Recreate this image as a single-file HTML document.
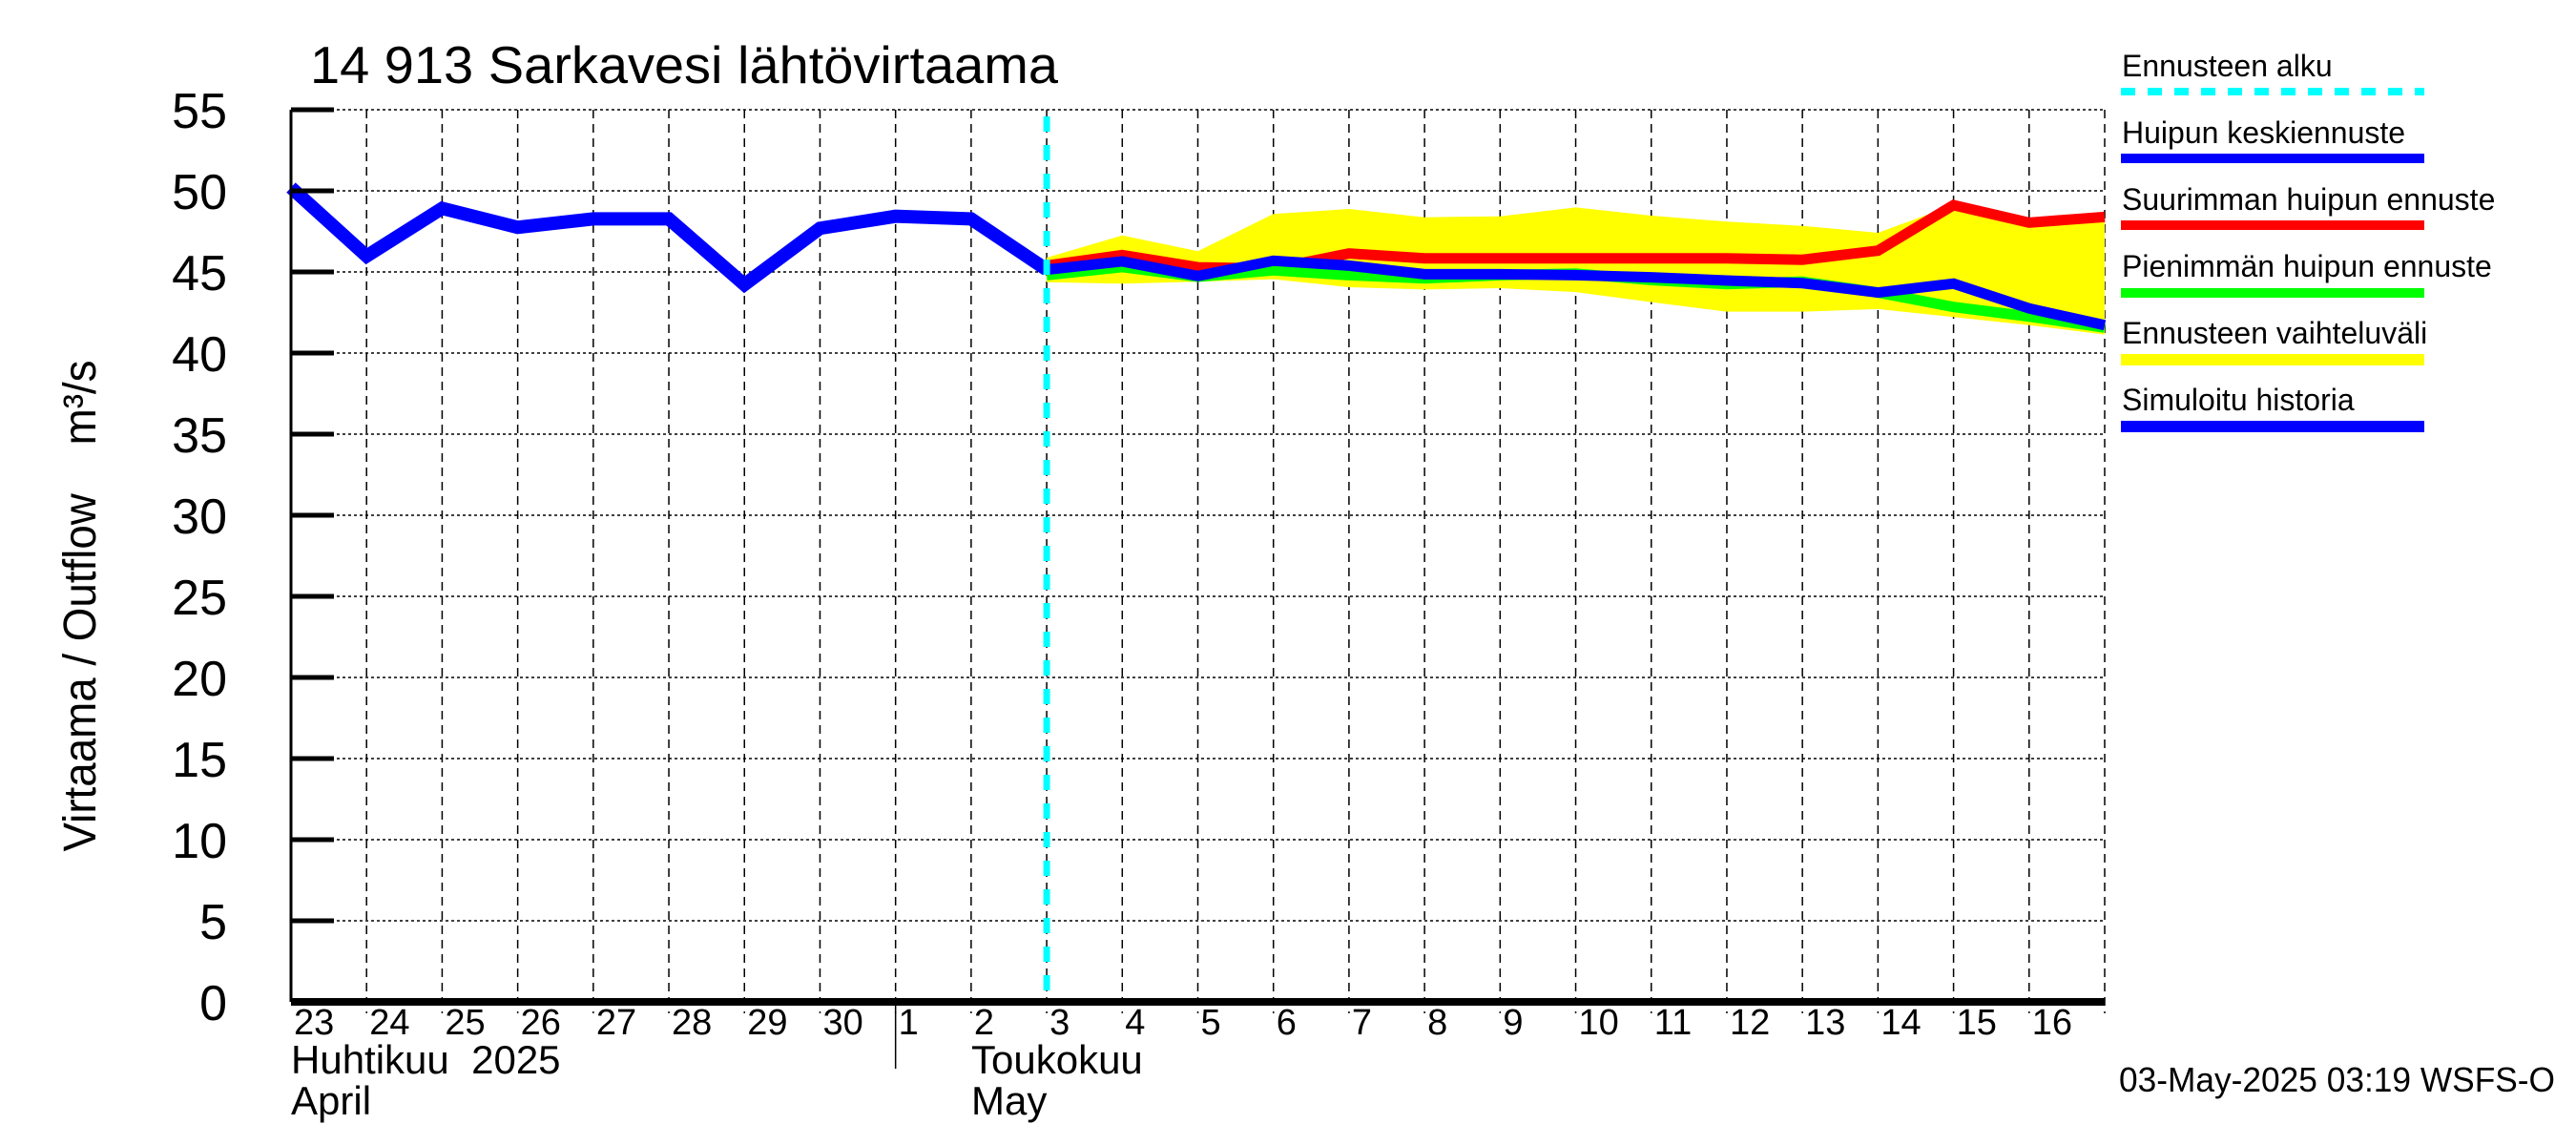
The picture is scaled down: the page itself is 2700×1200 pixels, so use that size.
<!DOCTYPE html>
<html><head><meta charset="utf-8"><style>
html,body{margin:0;padding:0;background:#fff;}
svg{display:block;font-family:"Liberation Sans",sans-serif;}
</style></head><body>
<svg id="chart" width="2700" height="1200" viewBox="0 0 2700 1200">
<text x="325" y="87" font-size="55" textLength="784" lengthAdjust="spacingAndGlyphs">14 913 Sarkavesi lähtövirtaama</text>
<text transform="translate(100,635) rotate(-90)" text-anchor="middle" font-size="48" textLength="515" lengthAdjust="spacingAndGlyphs" style="white-space:pre" xml:space="preserve">Virtaama / Outflow    m³/s</text>
<g id="grid"></g>
<g id="series"></g>
<g id="axes"></g>
<g id="legend">
<text x="2224" y="80" font-size="32">Ennusteen alku</text>
<line x1="2223" y1="96" x2="2541" y2="96" stroke="#00ffff" stroke-width="8" stroke-dasharray="15,13"/>
<text x="2224" y="150" font-size="32">Huipun keskiennuste</text>
<rect x="2223" y="161" width="318" height="10" fill="#0000ff"/>
<text x="2224" y="220" font-size="32">Suurimman huipun ennuste</text>
<rect x="2223" y="231" width="318" height="10" fill="#ff0000"/>
<text x="2224" y="290" font-size="32">Pienimmän huipun ennuste</text>
<rect x="2223" y="302" width="318" height="10" fill="#00ff00"/>
<text x="2224" y="360" font-size="32">Ennusteen vaihteluväli</text>
<rect x="2223" y="371" width="318" height="12" fill="#ffff00"/>
<text x="2224" y="430" font-size="32">Simuloitu historia</text>
<rect x="2223" y="441" width="318" height="12" fill="#0000ff"/>
</g>
<text x="305" y="1125" font-size="42" xml:space="preserve" style="white-space:pre">Huhtikuu  2025</text>
<text x="305" y="1168" font-size="42">April</text>
<text x="1018" y="1125" font-size="42">Toukokuu</text>
<text x="1018" y="1168" font-size="42">May</text>
<text x="2221" y="1144" font-size="36" textLength="457" lengthAdjust="spacingAndGlyphs">03-May-2025 03:19 WSFS-O</text>
</svg>
<script>
const dayLabels=["23","24","25","26","27","28","29","30","1","2","3","4","5","6","7","8","9","10","11","12","13","14","15","16"];
const yTicks=[0,5,10,15,20,25,30,35,40,45,50,55];
const historyVals=[50.2,45.98,48.92,47.75,48.27,48.27,44.22,47.69,48.43,48.27,45.14];
const forecastStart=10;
const medianVals=[45.14,45.65,44.75,45.69,45.39,44.86,44.86,44.8,44.67,44.47,44.31,43.73,44.28,42.75,41.72];
const maxVals=[45.39,46.04,45.29,45.2,46.14,45.84,45.84,45.84,45.84,45.84,45.75,46.31,49.12,48.04,48.39];
const minVals=[44.8,45.3,44.7,45.1,44.8,44.6,44.8,44.9,44.5,44.25,44.4,43.73,42.84,42.25,41.57];
const rangeUpper=[45.88,47.25,46.28,48.57,48.88,48.37,48.43,48.98,48.47,48.1,47.84,47.41,49.12,48.04,48.1];
const rangeLower=[44.37,44.28,44.4,44.55,44.06,43.92,44.0,43.76,43.14,42.55,42.55,42.71,42.22,41.72,41.14];

const NS="http://www.w3.org/2000/svg";
const X0=305,X1=2206,Y0=1050,Y1=115,NDAYS=24;
const xs=i=>X0+(X1-X0)*i/NDAYS;
const ys=v=>Y0-(Y0-Y1)*v/55;
function mk(tag,attrs,parent){const e=document.createElementNS(NS,tag);for(const k in attrs)e.setAttribute(k,attrs[k]);parent.appendChild(e);return e;}
const grid=document.getElementById('grid'),series=document.getElementById('series'),axes=document.getElementById('axes');

yTicks.forEach(v=>{
  if(v>0){const l=mk('line',{x1:X0,x2:X1,y1:ys(v),y2:ys(v),stroke:'#000','stroke-width':1.5,'stroke-dasharray':'3,3'},grid);
  
  }
  const t=mk('line',{x1:X0,x2:X0+45,y1:ys(v),y2:ys(v),stroke:'#000','stroke-width':5},axes);
  
  
  const lb=mk('text',{x:238,y:ys(v)+19,'text-anchor':'end','font-size':52},axes);
  
  
  lb.textContent=v;
});
for(let i=1;i<=NDAYS;i++){
  const l=mk('line',{x1:xs(i),x2:xs(i),y1:Y1,y2:Y0+12,stroke:'#000','stroke-width':1.5,'stroke-dasharray':'9,6'},grid);
  
  
}
dayLabels.forEach((d,i)=>{
  const t=mk('text',{x:xs(i)+3,y:1084,'font-size':38},axes);
  
  
  t.textContent=d;
});
const ms=mk('line',{x1:xs(8),x2:xs(8),y1:Y0,y2:1120,stroke:'#000','stroke-width':1.5},axes);



let pts=rangeUpper.map((v,i)=>xs(forecastStart+i)+','+ys(v));
for(let i=rangeLower.length-1;i>=0;i--)pts.push(xs(forecastStart+i)+','+ys(rangeLower[i]));
const band=mk('polygon',{points:pts.join(' '),fill:'#ffff00'},series);



function line(vals,start,color,w,name){
  const p=mk('polyline',{points:vals.map((v,i)=>xs(start+i)+','+ys(v)).join(' '),fill:'none',stroke:color,'stroke-width':w,'stroke-linejoin':'miter'},series);
  
  
}
line(maxVals,forecastStart,'#ff0000',11,'max-peak-forecast-line');
line(minVals,forecastStart,'#00ff00',11,'min-peak-forecast-line');
line(medianVals,forecastStart,'#0000ff',11,'median-forecast-line');
line(historyVals,0,'#0000ff',14,'simulated-history-line');

const fs=mk('line',{x1:xs(forecastStart),x2:xs(forecastStart),y1:122,y2:Y0,stroke:'#00ffff','stroke-width':7,'stroke-dasharray':'16,14'},series);



const ya=mk('line',{x1:X0,x2:X0,y1:Y1,y2:Y0,stroke:'#000','stroke-width':3},axes);


const xa=mk('line',{x1:X0,x2:X1,y1:Y0,y2:Y0,stroke:'#000','stroke-width':8},axes);


</script>
</body></html>
